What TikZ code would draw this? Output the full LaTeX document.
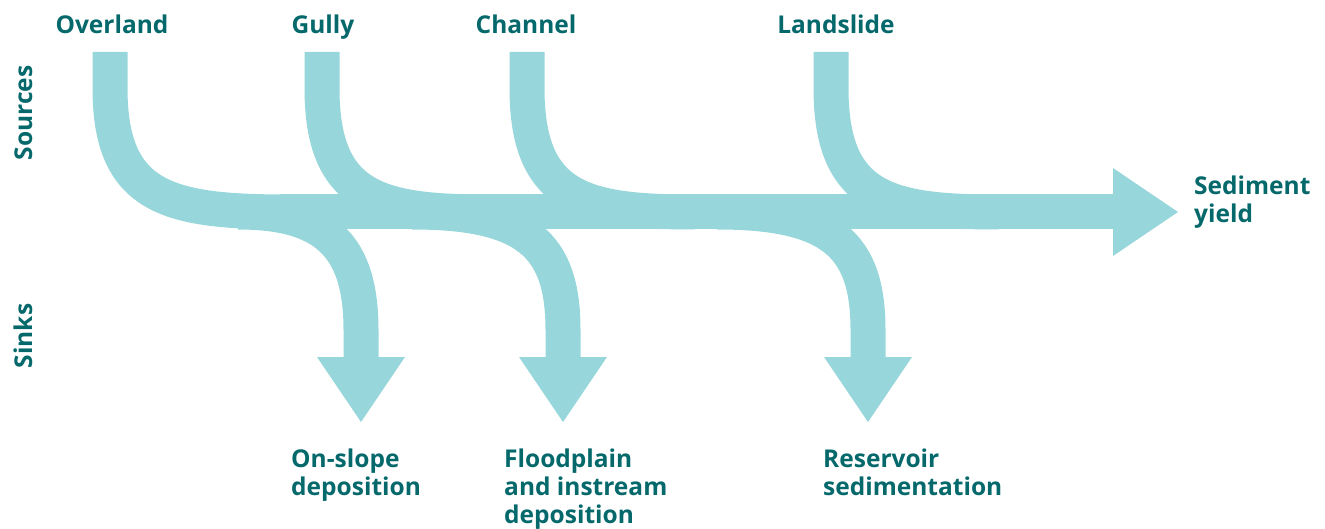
\documentclass[tikz,border=0pt]{standalone}
\usepackage{fontspec}
\setmainfont{Open Sans}
\definecolor{flow}{HTML}{97D7DB}
\definecolor{ink}{HTML}{05686B}
\begin{document}
\begin{tikzpicture}[x=1pt,y=-1pt,
  band/.style={draw=flow,line width=35pt,line cap=butt},
  headshape/.style={fill=flow,draw=none},
  lbl/.style={inner sep=0pt,text=ink,font=\fontsize{24.5}{28}\selectfont\bfseries},
  mlbl/.style={lbl,align=left,anchor=north west}]
\useasboundingbox (0,0) rectangle (1325,529);
% named points
\coordinate (ovT) at (110,52);
\coordinate (guT) at (322,52);
\coordinate (chT) at (527,52);
\coordinate (laT) at (831,52);
\coordinate (mainS) at (280,212);
\coordinate (mainE) at (1114,212);
\coordinate (s1B) at (361,358);
\coordinate (s2B) at (563,358);
\coordinate (s3B) at (868,358);
% sources
\draw[band] (ovT) -- (110,88) .. controls (110,200) and (170,212) .. (290,212) -- (300,212);
\draw[band] (guT) -- (322,88) .. controls (322,200) and (380,212) .. (490,212);
\draw[band] (chT) -- (527,88) .. controls (527,200) and (585,212) .. (695,212);
\draw[band] (laT) -- (831,88) .. controls (831,200) and (889,212) .. (999,212);
% main band
\draw[band] (mainS) -- (mainE);
\fill[headshape] (1113,168) -- (1178,212) -- (1113,256) -- cycle;
% sinks
\draw[band] (238,212) .. controls (325,212) and (361,245) .. (361,330) -- (s1B);
\fill[headshape] (317,357) -- (405,357) -- (361,422) -- cycle;
\draw[band] (412,212) .. controls (527,212) and (563,245) .. (563,330) -- (s2B);
\fill[headshape] (519,357) -- (607,357) -- (563,422) -- cycle;
\draw[band] (717,212) .. controls (832,212) and (868,245) .. (868,330) -- (s3B);
\fill[headshape] (824,357) -- (912,357) -- (868,422) -- cycle;
% labels
\node[lbl,anchor=base] (lov) at (112,34) {Overland};
\node[lbl,anchor=base] (lgu) at (323,34) {Gully};
\node[lbl,anchor=base] (lch) at (526,34) {Channel};
\node[lbl,anchor=base] (lla) at (836,34) {Landslide};
\node[lbl,anchor=base,rotate=90] (lso) at (32,113) {Sources};
\node[lbl,anchor=base,rotate=90] (lsi) at (32,336) {Sinks};
\node[mlbl] (lsy) at (1194,176) {Sediment\\yield};
\node[mlbl] (lon) at (291,448.5) {On-slope\\deposition};
\node[mlbl] (lfl) at (504,448.5) {Floodplain\\and instream\\deposition};
\node[mlbl] (lre) at (823,448.5) {Reservoir\\sedimentation};
\end{tikzpicture}
\end{document}
